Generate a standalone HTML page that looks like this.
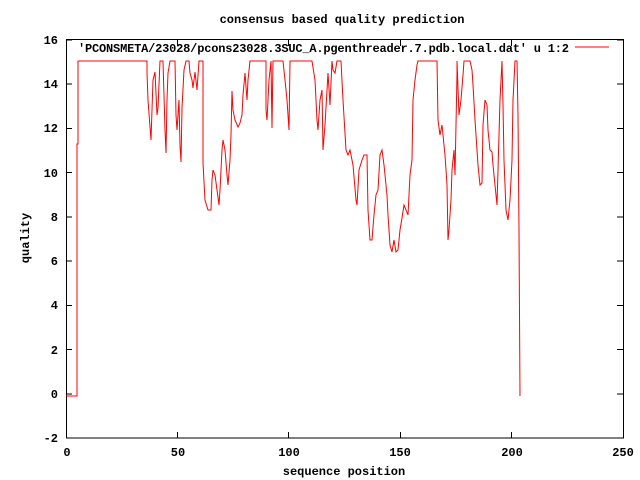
<!DOCTYPE html>
<html><head><meta charset="utf-8"><style>body{margin:0;background:#fff}svg{display:block}text{font-family:"Liberation Mono",monospace;font-weight:bold;font-size:12px;fill:#000}</style></head><body>
<svg width="640" height="480" viewBox="0 0 640 480" xmlns="http://www.w3.org/2000/svg">
<rect x="66.5" y="39.5" width="557" height="398.5" fill="none" stroke="#000" stroke-width="1" shape-rendering="crispEdges"/>
<g stroke="#000" stroke-width="1" shape-rendering="crispEdges">
<path d="M66 40h6M66 84.2h6M66 128.4h6M66 172.7h6M66 216.9h6M66 261.1h6M66 305.3h6M66 349.6h6M66 393.8h6M66 438h6"/>
<path d="M623 40h-6M623 84.2h-6M623 128.4h-6M623 172.7h-6M623 216.9h-6M623 261.1h-6M623 305.3h-6M623 349.6h-6M623 393.8h-6M623 438h-6"/>
<path d="M177.5 438v-6M288.5 438v-6M400.5 438v-6M511.5 438v-6M177.5 40v6M288.5 40v6M400.5 40v6M511.5 40v6"/>
</g>
<g text-anchor="end">
<text x="58" y="44">16</text><text x="58" y="88">14</text><text x="58" y="132">12</text><text x="58" y="177">10</text><text x="58" y="221">8</text><text x="58" y="265">6</text><text x="58" y="309">4</text><text x="58" y="354">2</text><text x="58" y="398">0</text><text x="58" y="442">-2</text>
</g>
<g text-anchor="middle">
<text x="67" y="456">0</text><text x="178" y="456">50</text><text x="289" y="456">100</text><text x="400" y="456">150</text><text x="512" y="456">200</text><text x="623" y="456">250</text>
<text x="344" y="475">sequence position</text>
<text x="342" y="23">consensus based quality prediction</text>
<text transform="translate(29,238) rotate(-90)">quality</text>
</g>
<text x="569" y="52" text-anchor="end" textLength="491">'PCONSMETA/23028/pcons23028.3SUC_A.pgenthreader.7.pdb.local.dat' u 1:2</text>
<path d="M575 47h34" stroke="#f00" stroke-width="1"/>
<polyline fill="none" stroke="#f00" stroke-width="1" points="66,396 77,396 77,144 78,144 78,61 147,61 147,73 148,100 150,127 151,140 153,80 155,72 157,115 158,108 160,61 163,61 165,130 166,153 167,100 168,73 170,61 175,61 176,115 177,130 179,100 180,145 181,162 182,108 184,70 186,61 189,61 190,73 192,80 193,88 195,72 197,90 199,61 203,61 203,163 205,200 208,210 211,210 212,180 213,170 215,175 217,190 219,205 220,190 222,150 223,140 225,150 227,175 228,185 230,160 231,135 232,91 233,110 235,120 238,127 240,123 242,115 243,95 245,73 247,100 248,80 250,61 266,61 266,110 267,120 269,80 271,61 272,128 273,61 283,61 285,80 287,100 289,130 290,61 312,61 315,80 317,120 318,130 320,100 322,90 323,150 325,125 328,73 330,105 332,61 333,70 335,73 337,61 341,61 343,100 346,150 348,155 350,150 353,165 356,200 357,205 359,170 362,160 364,155 367,155 368,210 370,240 372,240 374,215 376,195 378,190 380,155 382,150 384,165 387,195 388,215 390,245 392,252 394,240 396,252 398,250 400,230 402,218 404,205 406,210 408,215 410,175 412,160 413,100 415,80 417,65 418,61 437,61 438,120 440,135 442,125 443,135 445,155 447,185 448,240 449,230 451,200 452,170 454,150 455,175 457,75 457,61 459,115 461,100 463,75 464,61 470,61 472,70 473,85 475,120 477,150 478,165 480,185 482,183 483,125 485,100 487,105 488,130 490,150 492,152 493,165 495,185 497,205 498,170 500,100 502,61 503,105 504,160 506,210 508,220 510,200 512,160 513,100 515,61 517,61 518,115 519,230 520,396"/>
</svg>
</body></html>
